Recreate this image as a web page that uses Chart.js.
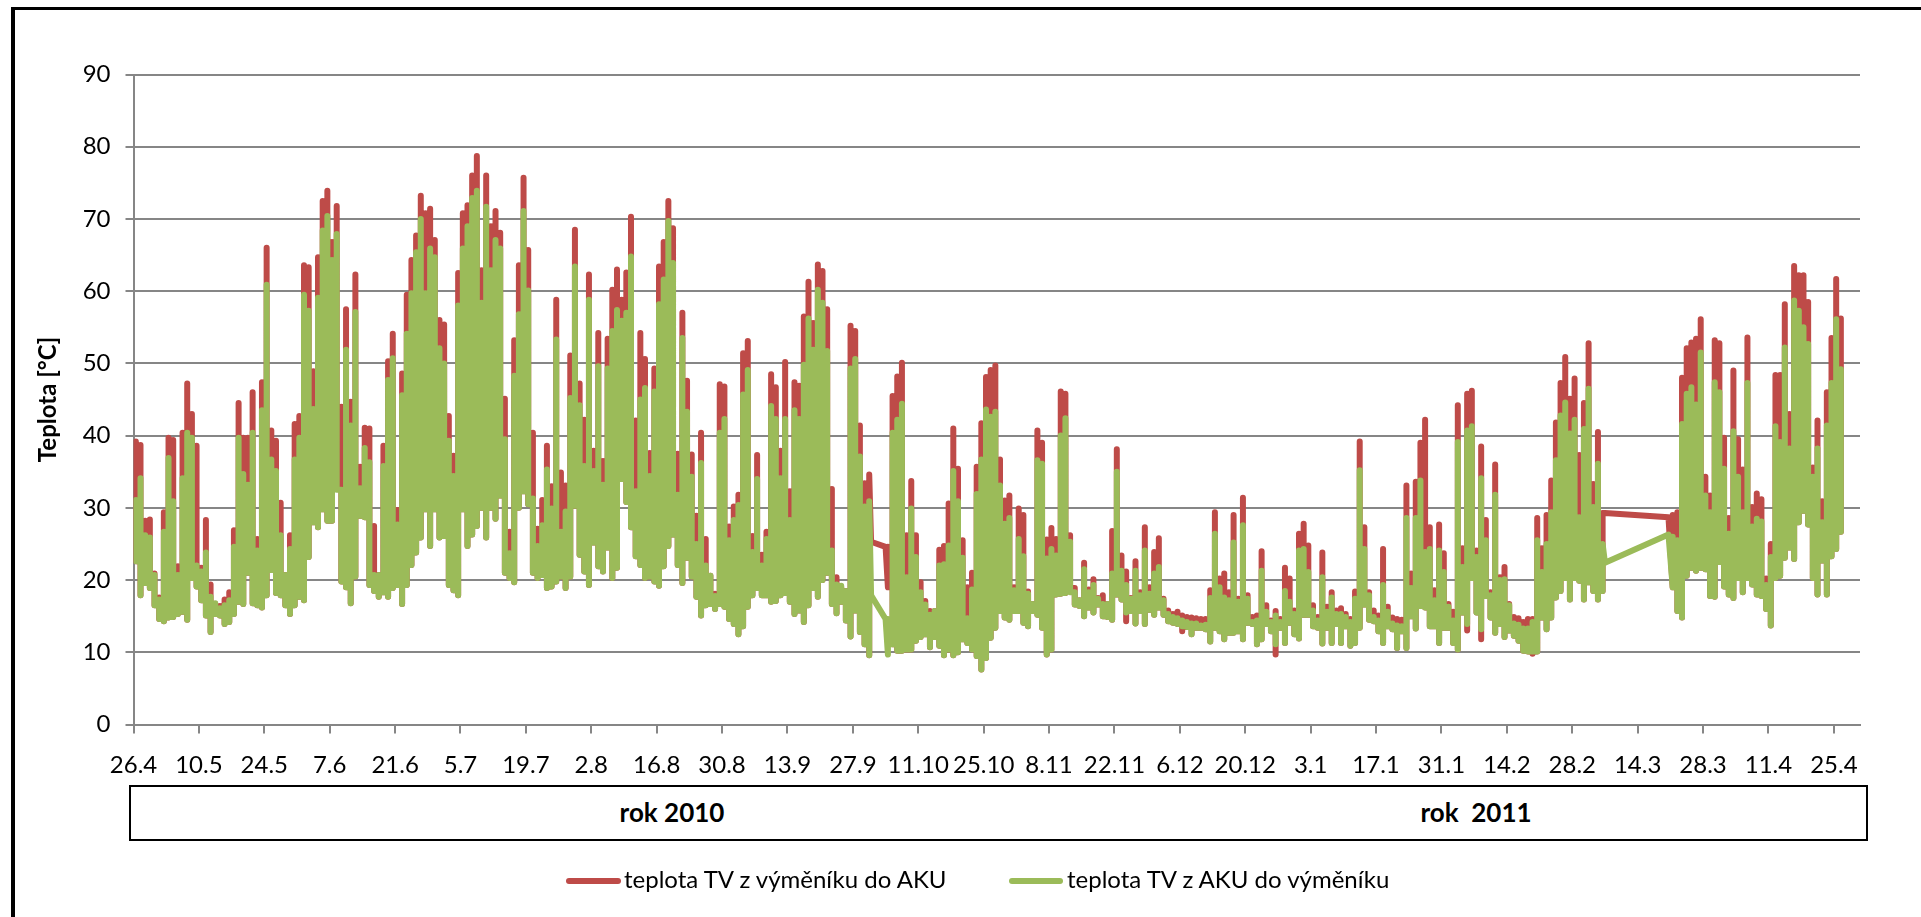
<!DOCTYPE html>
<html lang="cs">
<head>
<meta charset="utf-8">
<title>Teplota TV</title>
<script src="https://cdn.jsdelivr.net/npm/chart.js@4"></script>
<style>
html,body{margin:0;padding:0;background:#fff;overflow:hidden}
#wrap{position:relative;width:1921px;height:917px;overflow:hidden;font-family:Lato,sans-serif;color:#000}
#frame{position:absolute;left:11px;top:7px;right:-10px;bottom:-10px;border-left:4px solid #000;border-top:3px solid #000;pointer-events:none}
#years{position:absolute;left:129px;top:785px;width:1735px;height:52px;border:2.5px solid #000;background:#fff}
.yr{position:absolute;top:9px;font-weight:700;font-size:26px;line-height:32px;transform:translateX(-50%);white-space:pre}
.lg-line{position:absolute;top:878px;height:6px;border-radius:3px}
.lg-text{position:absolute;top:864px;font-size:24px;line-height:30px;white-space:pre}
canvas{position:absolute;left:0;top:0}
</style>
</head>
<body>
<div id="wrap">
<canvas id="c" width="1921" height="917"></canvas>
<div id="frame"></div>
<div id="years"><span class="yr" style="left:541px">rok 2010</span><span class="yr" style="left:1345px">rok  2011</span></div>
<div class="lg-line" id="l0" style="left:566px;width:55px"></div>
<div class="lg-text" id="t0" style="left:624px"></div>
<div class="lg-line" id="l1" style="left:1009px;width:54px"></div>
<div class="lg-text" id="t1" style="left:1067px"></div>
</div>
<script>
// x tick labels, one every 14 days from 26.4.2010
const tickLabels = ["26.4","10.5","24.5","7.6","21.6","5.7","19.7","2.8","16.8","30.8","13.9","27.9","11.10","25.10","8.11","22.11","6.12","20.12","3.1","17.1","31.1","14.2","28.2","14.3","28.3","11.4","25.4"];
const seriesNames = ["teplota TV z výměníku do AKU","teplota TV z AKU do výměníku"];
const seriesColors = ["#BE4B48","#9BBB59"];

// daily maxima of the red series, index = days since 26.4.2010 (null = no record)
const redHigh = [
39.2,38.7,28.2,28.4,20.9,17.6,29.4,39.7,39.4,21.9,
40.4,47.2,43,38.6,21.7,28.3,19.4,16.7,16.4,17.3,
18.3,26.9,44.5,39.7,39.7,46,25.7,47.4,66,40.7,
39.3,30.7,20.7,26.2,41.6,42.7,63.6,63.3,48.9,64.7,
72.5,73.9,66.8,71.8,44,57.5,44.7,62.3,35.7,41.1,
41,27.5,20.7,38.6,50.3,54.1,29.7,48.6,59.5,64.3,
67.7,73.2,70.8,71.4,67.1,56,55.4,42.7,37.2,62.5,
70.8,71.9,76,78.7,62.9,76,69,71.1,68.1,45.1,
26.7,53.2,63.6,75.7,65.7,40.4,27.1,31.1,38.6,33,
58.8,34.9,33.1,51.1,68.5,47.2,42.2,62.3,37.9,54.2,
36.5,53.4,60.2,63,58.8,62.6,70.3,42.1,54.2,50.6,
37.6,49.3,63.4,66.8,72.5,68.7,37.5,57,47.6,37.4,
28.9,40.4,25.7,20.6,18.1,47.1,46.8,27.4,30.2,31.8,
51.4,53.1,26.1,37.3,23.5,26.7,48.5,46.7,37.9,50.2,
32.3,47.4,46.9,56.5,61.3,55.6,63.7,62.8,57.5,32.6,
20.4,19,18.5,55.2,54.5,41.4,33.4,34.6,null,null,
null,24.6,45.5,48.2,50.1,26.2,33.7,26.2,19.7,17.1,
15.7,15.7,24.2,24.7,30.6,41,35.4,25.5,19,21,
35.7,41.7,48.1,49.1,49.7,36.7,31,31.7,19,29.9,
29,18.4,16.7,40.7,39,25.6,27.2,25.7,46.1,45.8,
26.2,18.9,17.2,22.4,18.7,20.1,17.5,17.9,16.7,26.8,
38.1,23.4,21.2,17.5,22.6,18.3,27.3,19,23.9,25.8,
17.4,15.8,15.3,15.6,15.1,14.9,14.8,14.7,14.6,14.6,
18.6,29.4,20.2,20.9,18.3,29,17.4,31.4,17.9,14.9,
15.1,24,16.5,14.4,15.7,14.6,21.7,20.2,15.8,26.4,
27.8,24.8,16.5,14.9,23.8,16.3,18.3,15.8,16.1,15.3,
14.6,18.4,39.2,27.3,18.3,15.8,15.1,24.3,16.3,14.8,
14.6,14.5,33.1,20.9,33.6,39,42.2,27.3,18.6,27.7,
23.7,16.7,15.6,44.2,24.4,45.8,46.2,24.1,38.5,28.3,
18.3,36,20.4,21.8,16.7,14.9,14.7,14.2,14.6,14.6,
28.6,24.4,29,33.8,41.8,47.3,50.9,45.1,47.9,37.3,
44.5,52.8,33.3,40.5,29.3,null,null,null,null,null,
null,null,null,null,null,null,null,null,null,29,
29.4,48,52.1,52.9,53.4,56.1,34.3,31.7,53.2,52.8,
39.7,28.6,49,39.5,35.3,53.6,30.1,32,31.2,20.2,
25,48.4,48.4,58.2,43,63.5,62.2,62.2,58.5,35.6,
42.1,30.9,46,53.5,61.7,56.2];

// daily maxima of the green series
const greenHigh = [
31.1,34.1,26.2,25.9,20.7,17.3,26.7,36.9,30.9,20.7,
34.1,40.4,39.7,22,21.2,23.8,17.7,16.8,16.1,16.5,
17.2,24.6,39.7,34.7,33.2,40.4,24.1,43.5,60.9,36.7,
35.1,26.2,20.7,24.3,36.7,39.7,59.5,57.3,43.7,59.1,
68.4,70.4,64.3,67.9,32.5,51.9,41.4,57.1,32.7,38.3,
36.3,20.7,20.7,35.8,47.7,50.7,27.7,45.6,54.1,59.7,
65.4,70,59.7,65.9,64.7,52.1,50,39.3,34.4,58,
65.9,69,72.9,73.9,58.4,71.7,62.9,67.1,65.9,39.5,
23.7,48.3,56.8,71.1,60.1,31.3,24.7,27.6,35.3,29.9,
53.3,26.7,29.5,45.2,63.4,44.2,35.8,58.8,35.1,49.6,
33.2,49.3,54.5,57.4,55.9,57,64.8,32.3,45,46.6,
34.4,46.1,58.2,61.6,69.7,63.9,31.8,53.5,43.3,34.3,
25,36.2,22,20.6,17.8,40.4,42.3,25.5,28.3,30.4,
45.7,49.1,23.9,34,22,25.7,44.1,42.3,34.1,42.3,
28.3,43.5,42.3,49.8,56.2,51.9,60.2,58.4,51.7,24.1,
19.4,19.2,18.5,49.3,50.6,37.1,30.2,30.9,null,null,
null,14.6,40.4,42.2,44.4,20.4,29.9,23.2,18.3,16.6,
15.2,15.7,22,22.2,24.8,35.1,30.9,23.1,14.7,18.7,
31.9,36.7,43.6,42.6,43.3,33.1,27.8,28.6,18.6,25.7,
23.3,18.1,16.7,36.6,36.1,23,24.3,23.4,40,42.4,
25.3,18.3,17.2,21.5,18.3,19.3,17.4,16.7,16.7,20.9,
35,21.3,19.3,17.4,21.3,17.9,24.1,18.1,20.9,21.8,
17.2,15.3,14.9,14.7,14.4,14.2,14,14,13.7,13.8,
17.5,26.4,19,17.6,17.2,25.2,17,27.6,17.4,14.2,
14.4,21.3,15.6,14.2,15.1,14.2,18.5,17,15.3,24.1,
24.3,21.1,15.8,14.4,20.4,15.6,17.6,15.3,15.3,14.9,
14.2,17.4,35.2,24.3,17.9,14.9,14.4,19.3,15.6,14,
13.7,13.6,28.6,18.9,28.6,33.8,23.9,24.3,17.2,24.1,
21.1,16.3,14.4,39.1,21.8,40.7,41.3,23.2,34.1,25.5,
17.9,31.8,20,20.1,16.5,14,13.8,13.3,13.3,14.2,
25.5,21.1,25,29.4,36.6,42.8,44.6,40.3,42.2,28.7,
40.9,46.5,30.1,36.1,25,null,null,null,null,null,
null,null,null,null,null,null,null,null,null,26,
25.5,41.6,45.8,46.7,44.3,51.5,31.7,29.4,47.4,46,
35.4,26.4,40.6,34.3,29.4,47.3,27.4,28.5,28.1,19.3,
23.2,41.3,39.1,52.2,38.2,58.7,57.3,55,52.7,34.3,
38.2,28,41.4,47.3,56.1,49.2];

// daily minima (lower outline of the band)
const dailyLow = [
22.6,17.9,19.6,18.9,16.5,14.6,14.3,14.8,14.9,15.3,
15.6,14.5,20.3,19.1,17.2,15.1,12.8,15.3,15.1,13.9,
14.2,15.3,17,16.7,21,16.8,16.5,16.2,17.9,21.4,
18.2,17.9,16.5,15.3,16.5,17.7,17.2,23.2,28,27.3,
29.8,28.2,28.2,32.6,19.8,19,16.8,20.5,28.9,28.7,
19.3,18.5,17.7,18.3,17.7,18.9,19.3,16.7,19.3,22.1,
23.8,25.9,29.8,24.7,29.8,25.9,26.1,19.3,18.6,17.9,
29.8,24.7,26.3,27.5,30,25.9,30,28.5,31.7,21,
20.3,19.7,30,32.3,30.5,21,20.3,20.7,18.9,19.1,
19.8,20.5,18.9,20.5,30.3,23.5,21.2,19.3,25.2,21.9,
21.2,24.5,20.3,21.7,34,30.8,27.3,23.3,22.1,20.3,
20.5,19.8,19.2,21.9,24.7,26.3,22.1,19.6,23.1,20.5,
17.7,15.1,16.5,16.7,16,16.7,16.3,14.6,13.9,12.5,
13.6,16.3,17.9,18.9,17.9,17.9,17,17.1,17.9,18.2,
17,15.3,15.8,14.2,16.5,18.9,17.7,20,21,16.7,
15.4,17,14.4,12.2,15.8,12.8,11.1,9.6,null,null,
null,9.7,11.1,10.2,10.2,10.4,10.4,11.6,12.1,12.5,
10.7,12.1,10.9,9.6,10.4,9.6,10,11.8,11.3,10.4,
9.5,7.6,9.2,12,13.4,15.7,14.8,14.5,15.7,15.7,
14.1,13.6,15.7,15.2,13.4,9.7,10.4,18,18.1,18.2,
18.9,16.6,16.4,15,16.2,15.5,16.6,15,14.9,14.5,
18,17.3,15.5,15.7,14,15.7,13.9,15.9,15.2,16.2,
15.2,14.3,14.1,13.9,13.6,13.5,12.5,13.4,13.4,13.2,
11.5,13.4,12.9,11.8,12.7,12.7,12.9,11.8,14.1,13.9,
11.1,11.8,13.9,12.9,11.1,13.4,11.3,14.1,12.5,11.9,
15.2,15.2,13.6,13.4,11.2,13.4,11.3,13.9,11.3,13.6,
10.9,11.3,13.4,16.6,14.5,14.3,12.9,11.3,13.6,13.2,
10.6,12.9,10.6,15,13.3,16.4,16.2,13.6,13.6,11.3,
13.4,13.4,11.3,10.4,15.5,13.9,20.3,15.5,13.2,17.8,
14.8,12.7,13.9,12.1,13,12.3,11.6,10.2,10.1,10.1,
10.1,14.8,13.2,14.8,17.6,18.5,20.3,17.3,20.3,19.9,
17.3,19.7,18.5,17.3,18.5,null,null,null,null,null,
null,null,null,null,null,null,null,null,null,19,
15.7,14.8,20.6,21.7,21.3,21.7,21.5,17.8,17.7,22.5,
19.1,18,17.5,20.3,18.3,20.3,19.4,18,17.8,16,
13.7,20.3,20.6,23.1,24.5,22.9,28,29.6,27.7,20.3,
18,22.7,18,23.3,24.3,26.7];

// days on which the red minimum differs from the band's lower outline
const redLowDays = [212,224,244,285,288,299,161];
const redLowValues = [14.3,12.9,9.7,13,11.8,9.8,19];

// readings across the two logging gaps: [day, value]
const redGap = [[157.9,25.3],[161,24.6],[315,29.3],[328.6,28.7]];
const greenGap = [[157.9,17.9],[161,14.6],[315,22.4],[328.6,26.3]];

// Each day is a vertical stroke low -> high; neighbouring days join at the higher of their lows.
function buildSeries(highs, lows, gap){
  const rows = [];
  highs.forEach((h, d) => { if (h !== null) rows.push({x: d + 0.5, lo: lows[d], hi: h}); });
  gap.forEach(([x, y]) => rows.push({x, lo: y, hi: y, bridge: true}));
  rows.sort((a, b) => a.x - b.x);
  const pts = [];
  rows.forEach((r, i) => {
    const n = rows[i + 1];
    pts.push({x: r.x, y: r.lo}, {x: r.x, y: r.hi});
    if (n && !r.bridge && !n.bridge) {
      const join = Math.min(Math.max(r.lo, n.lo), r.hi, n.hi);
      pts.push({x: r.x, y: join}, {x: n.x, y: join});
    }
  });
  return pts;
}

const redLow = dailyLow.slice();
redLowDays.forEach((d, i) => { redLow[d] = redLowValues[i]; });

seriesNames.forEach((n, i) => {
  document.getElementById('t' + i).textContent = n;
  document.getElementById('l' + i).style.background = seriesColors[i];
});

const GRID = '#868686';
const FONT = 'Lato, sans-serif';

new Chart(document.getElementById('c'), {
  type: 'line',
  data: {
    datasets: [
      {label: seriesNames[0], order: 2, data: buildSeries(redHigh, redLow, redGap), borderColor: seriesColors[0], backgroundColor: seriesColors[0]},
      {label: seriesNames[1], order: 1, data: buildSeries(greenHigh, dailyLow, greenGap), borderColor: seriesColors[1], backgroundColor: seriesColors[1]}
    ].map(d => Object.assign(d, {borderWidth: 6, pointRadius: 0, pointHoverRadius: 0, tension: 0, fill: false, borderCapStyle: 'round', borderJoinStyle: 'round'}))
  },
  options: {
    responsive: false,
    animation: false,
    events: [],
    layout: {padding: {left: 0, right: 61, top: 74.5, bottom: 0}},
    plugins: {
      title: {display: false},
      tooltip: {enabled: false},
      legend: {display: false}
    },
    scales: {
      x: {
        type: 'linear',
        min: 0,
        max: 369.6,
        afterFit: s => { s.height = 192.5; },
        border: {color: GRID, width: 2},
        grid: {drawOnChartArea: false, drawTicks: true, tickLength: 9, color: GRID, lineWidth: 2},
        ticks: {
          stepSize: 14, includeBounds: false, autoSkip: false, maxRotation: 0, minRotation: 0, padding: 17, color: '#000',
          font: {family: FONT, size: 24},
          callback: (v, i) => tickLabels[i]
        }
      },
      y: {
        min: 0,
        max: 90,
        afterFit: s => { s.width = 133.5; },
        border: {color: GRID, width: 2},
        grid: {color: GRID, lineWidth: 2, drawTicks: true, tickLength: 8},
        title: {display: true, text: 'Teplota [°C]', color: '#000', font: {family: FONT, size: 24, weight: 'bold'}, padding: {top: 34, bottom: 0}},
        ticks: {stepSize: 10, padding: 15, color: '#000', font: {family: FONT, size: 24}}
      }
    }
  }
});
</script>
</body>
</html>
